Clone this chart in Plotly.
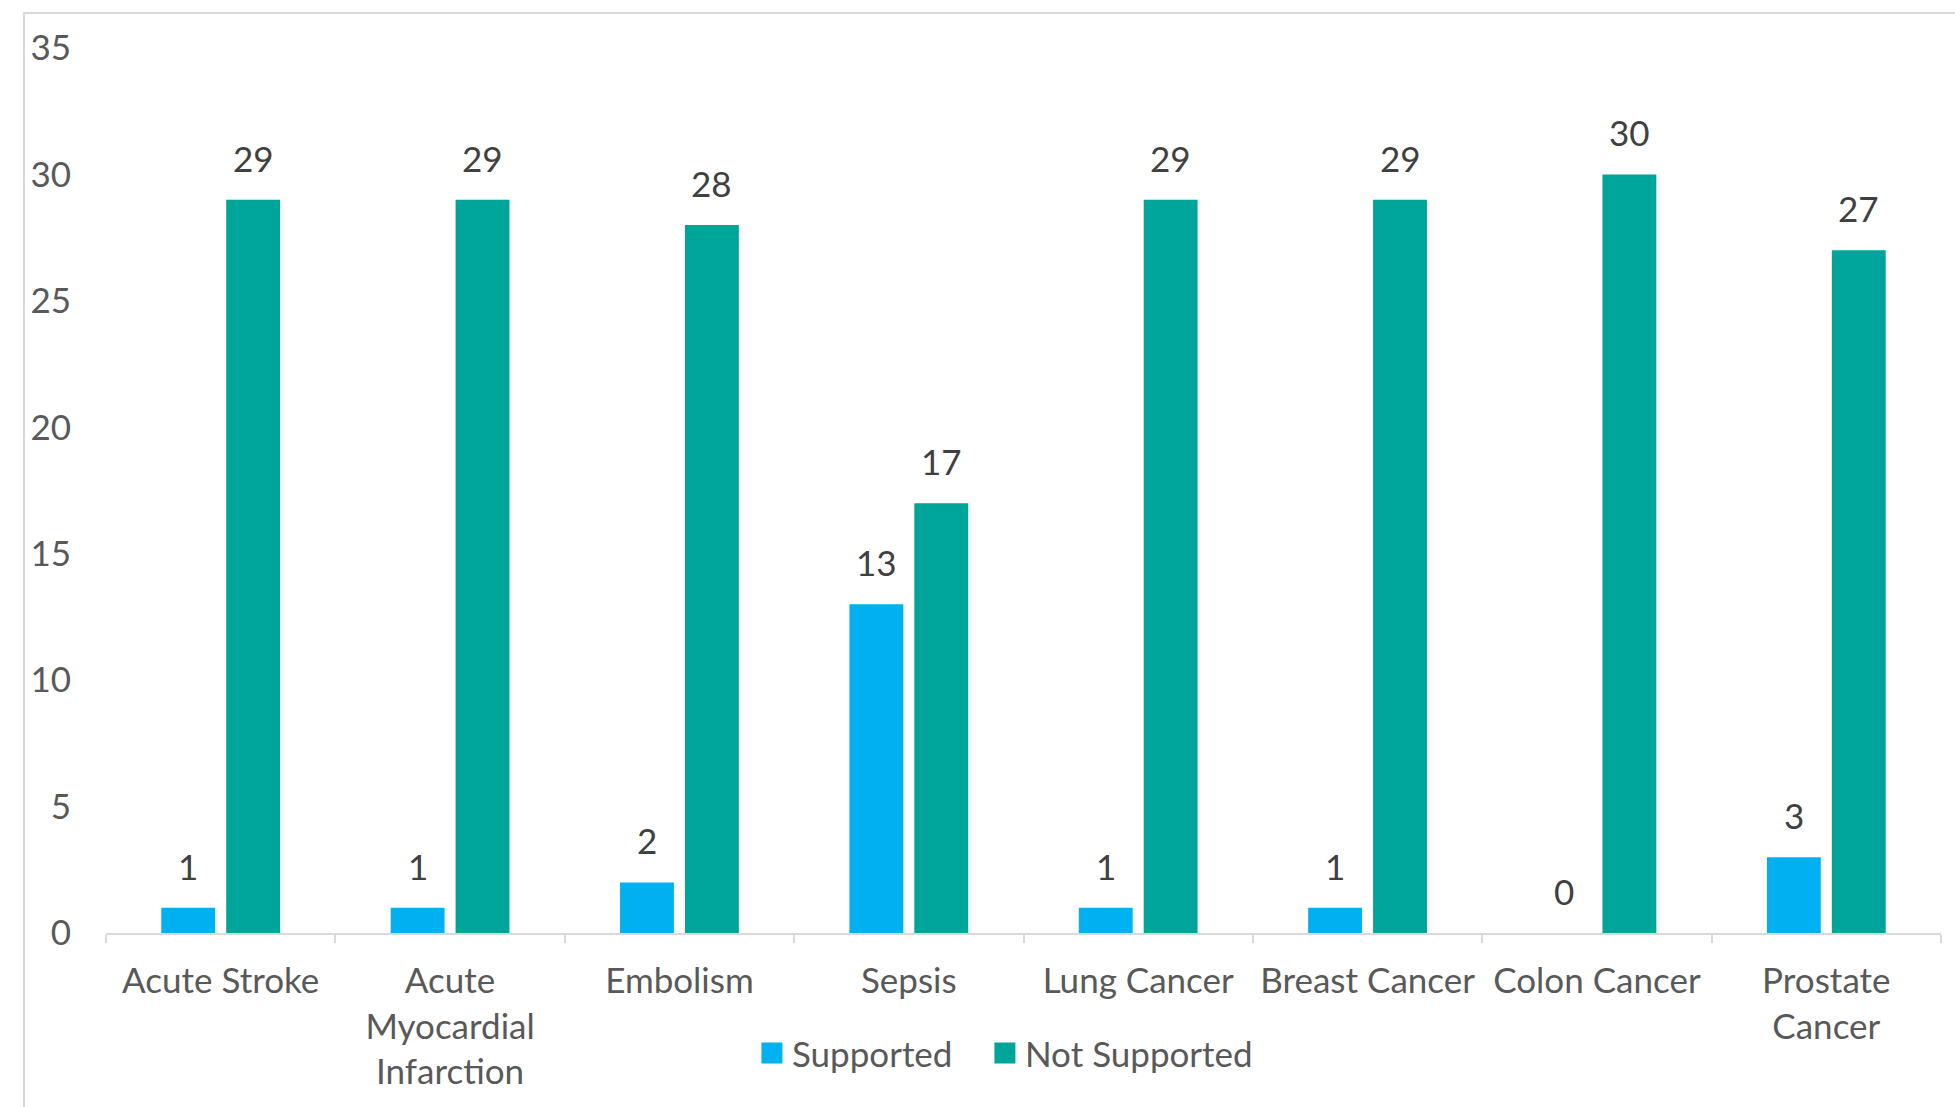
import plotly.graph_objects as go

categories = ["Acute Stroke", "Acute<br>Myocardial<br>Infarction", "Embolism", "Sepsis",
              "Lung Cancer", "Breast Cancer", "Colon Cancer", "Prostate<br>Cancer"]
supported = [1, 1, 2, 13, 1, 1, 0, 3]
not_supported = [29, 29, 28, 17, 29, 29, 30, 27]
series_names = ["Supported", "Not Supported"]
y_ticks = [0, 5, 10, 15, 20, 25, 30, 35]

BLUE = "#00B0F0"
TEAL = "#00A59A"
FONT = "Lato"
BARGAP = 0.434
GROUPGAP = 0.17

fig = go.Figure()
for vals, name, col in [(supported, series_names[0], BLUE), (not_supported, series_names[1], TEAL)]:
    fig.add_trace(go.Bar(x=categories, y=vals, name=name, marker=dict(color=col, line=dict(width=0)),
                         showlegend=False))

# legend entries with larger square symbols
for name, col, lw in [(series_names[0], BLUE, 188), (series_names[1], TEAL, None)]:
    kw = dict(legendwidth=lw) if lw else {}
    fig.add_trace(go.Scatter(x=[None], y=[None], mode="markers", name=name,
                             marker=dict(symbol="square", size=16, color=col,
                                         line=dict(width=5, color=col)), **kw))

# data labels
off = (1 - BARGAP) / 4
annotations = []
for j, vals in enumerate([supported, not_supported]):
    sign = -1 if j == 0 else 1
    for i, v in enumerate(vals):
        annotations.append(dict(x=i + sign * off, y=v, xref="x", yref="y", text=str(v),
                                showarrow=False, yanchor="bottom", yshift=19,
                                font=dict(family=FONT, size=35, color="#404040")))

fig.update_layout(
    width=1955, height=1107,
    margin=dict(l=106, r=14, t=48, b=174),
    paper_bgcolor="white", plot_bgcolor="white",
    barmode="group", bargap=BARGAP, bargroupgap=GROUPGAP,
    font=dict(family=FONT, size=35, color="#595959"),
    annotations=annotations,
    legend=dict(orientation="h", x=0.352, xanchor="left", y=-0.136, yanchor="middle",
                font=dict(family=FONT, size=35, color="#595959"), bgcolor="rgba(0,0,0,0)"),
    shapes=[dict(type="rect", xref="paper", yref="paper", x0=-0.0447, x1=1.2, y0=-0.4, y1=1.0395,
                 line=dict(color="#d9d9d9", width=2), layer="below")],
)
fig.update_xaxes(type="category", showline=True, linecolor="#d9d9d9", linewidth=2,
                 ticks="outside", tickson="boundaries", ticklen=8, tickwidth=2, tickcolor="#d9d9d9",
                 showgrid=False, ticklabelstandoff=16,
                 tickfont=dict(family=FONT, size=35, color="#595959"))
fig.update_yaxes(range=[0, 35], tickvals=y_ticks, showgrid=False, zeroline=False, showline=False,
                 ticks="", ticklabelstandoff=34,
                 tickfont=dict(family=FONT, size=35, color="#595959"))

fig.write_html("out.html")
